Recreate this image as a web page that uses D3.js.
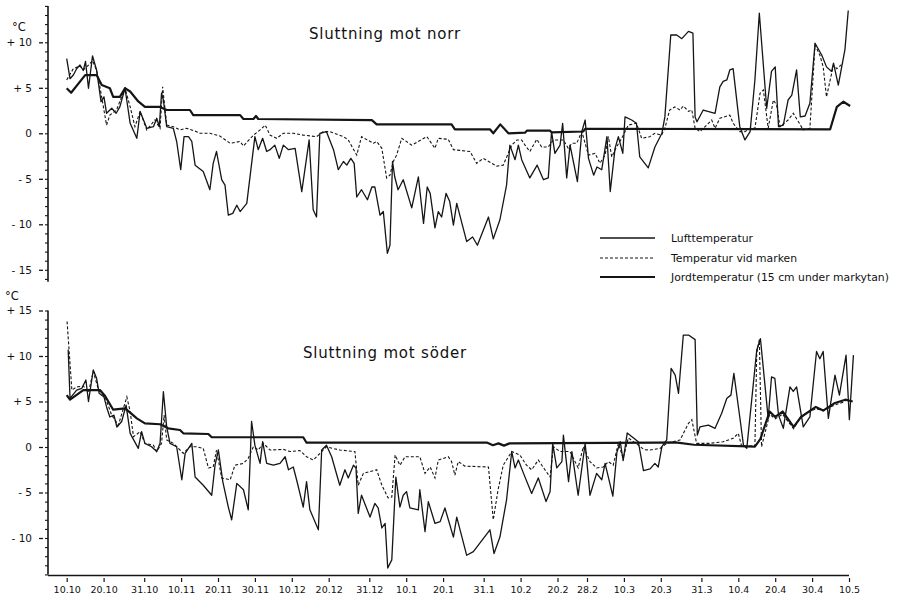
<!DOCTYPE html>
<html>
<head>
<meta charset="utf-8">
<script src="https://cdn.jsdelivr.net/npm/d3@7"></script>
<style>
  html, body { margin: 0; padding: 0; background: #fff; }
  svg { display: block; }
  text { font-family: "DejaVu Sans", "Liberation Sans", sans-serif; fill: #111; }
</style>
</head>
<body>
<svg id="chart" width="903" height="597"></svg>
<script>
// Day offsets counted from 10 October; tick labels along the date axis.
const tickDays   = [0, 10, 21, 31, 41, 51, 61, 71, 82, 92, 102, 113, 123, 133, 141, 151, 161, 172, 182, 192, 202, 212];
const tickLabels = ["10.10", "20.10", "31.10", "10.11", "20.11", "30.11", "10.12", "20.12", "31.12", "10.1", "20.1",
                    "31.1", "10.2", "20.2", "28.2", "10.3", "20.3", "31.3", "10.4", "20.4", "30.4", "10.5"];

const titles = ["Sluttning mot norr", "Sluttning mot söder"];
const legendLabels = ["Lufttemperatur", "Temperatur vid marken", "Jordtemperatur (15 cm under markytan)"];

const northTicks = [10, 5, 0, -5, -10, -15];
const southTicks = [15, 10, 5, 0, -5, -10];

// ---- North-facing slope: [day, °C] ----
const northAir = [[0,8.2],[0.9,6.0],[1.8,6.4],[2.7,7.1],[3.6,7.5],[4.5,6.9],[5.1,7.9],[5.9,4.95],[7.0,8.5],[8.1,6.96],
 [9.3,3.47],[10.1,4.0],[10.8,2.2],[12.2,2.75],[13.4,2.2],[14.4,2.9],[15.8,4.95],[17.2,1.1],[19.0,-0.55],[19.9,2.4],
 [21.7,0.55],[23.5,0.73],[24.4,1.65],[25.1,0.73],[25.7,4.4],[26.2,3.66],[27.1,0.73],[28.9,0.55],[29.8,-0.9],[30.9,-4.0],
 [31.8,-0.37],[33.0,-0.37],[33.9,-0.9],[34.8,-3.5],[37.0,-4.2],[38.8,-6.2],[39.7,-3.3],[40.6,-2.0],[42.0,-5.1],[42.9,-5.7],
 [43.8,-9.0],[45.0,-8.8],[46.1,-7.9],[47.0,-8.6],[48.8,-7.7],[51.0,-0.37],[51.9,-1.8],[53.1,-0.55],[54.2,-2.0],[55.1,-1.8],
 [56.4,-1.3],[57.6,-2.75],[58.7,-1.3],[60.1,-1.8],[61.9,-1.65],[63.7,-6.4],[65.7,-0.73],[66.8,-8.4],[67.7,-9.2],[68.6,0],
 [70.4,0.18],[72.3,-1.8],[73.6,-4.0],[75.0,-3.1],[75.9,-3.5],[77.0,-2.75],[77.9,-3.3],[78.6,-7.0],[79.9,-6.2],[81.5,-7.3],
 [82.7,-5.9],[83.5,-5.9],[84.9,-9.0],[85.8,-8.6],[86.9,-13.2],[87.6,-12.3],[88.3,-3.1],[88.9,-4.8],[89.8,-6.2],[91.2,-5.1],
 [93.5,-8.2],[95.3,-4.8],[96.7,-9.9],[97.7,-5.9],[98.5,-6.6],[99.8,-10.4],[100.7,-8.6],[101.6,-9.2],[102.8,-6.6],[103.8,-7.5],
 [104.8,-10.1],[105.7,-7.7],[108.4,-11.9],[110.0,-11.4],[111.3,-12.3],[114.3,-9.2],[115.6,-11.6],[117.4,-9.5],[119.2,-5.7],
 [120.1,-1.3],[121.5,-2.9],[122.4,-1.3],[123.3,-2.9],[125.5,-4.9],[127.5,-3.5],[129.2,-5.1],[130.5,-4.9],[131.4,0.18],
 [132.3,-2.2],[133.7,-1.3],[134.4,1.1],[135.5,-4.9],[136.4,-1.3],[138.4,-5.3],[139.6,0.18],[140.5,1.46],[141.4,-2.75],
 [142.8,-4.6],[143.7,-3.7],[145.0,-4.0],[146.4,-0.37],[147.3,-6.4],[148.6,-1.65],[149.5,-0.37],[150.7,-2.2],[151.3,1.8],
 [153.1,1.46],[154.4,1.1],[155.3,-2.6],[157.6,-3.8],[159.4,-1.5],[161.3,0],[162.1,1.8],[163.7,10.8],[165.3,10.8],
 [166.7,10.4],[168.5,11.2],[169.7,11.0],[170.3,1.8],[170.8,1.27],[172.5,2.56],[175.7,2.2],[177.0,5.1],[177.9,5.7],
 [178.9,5.86],[179.7,6.96],[180.6,7.1],[182.4,0.73],[183.8,-0.73],[185.2,0.18],[186.5,5.86],[187.7,13.2],[189.7,2.75],
 [191.0,6.8],[192.0,7.3],[192.9,0.73],[194.2,0.9],[195.5,3.66],[196.5,4.2],[197.8,6.96],[198.8,1.8],[200.1,1.9],
 [201.4,3.3],[202.8,9.9],[204.6,8.6],[205.9,7.3],[207.3,6.8],[207.8,7.7],[209.1,5.3],[210.9,9.2],[211.8,13.5]];

const northGround = [[0,5.86],[1.8,7.1],[3.6,7.4],[4.5,6.96],[5.9,7.5],[7.0,8.0],[8.1,6.9],[9.0,5.1],[10.8,0.9],[11.7,2.0],
 [13.5,2.56],[15.8,4.95],[17.2,2.9],[18.5,0.73],[19.9,2.4],[21.7,0.37],[23.9,1.46],[25.3,0.55],[26.0,5.1],[27.1,0.9],
 [28.9,0.73],[30.7,0.37],[32.5,0.55],[35.2,0.18],[36.1,0],[38.8,0],[41.5,-0.3],[44.3,-1.1],[47.0,-0.9],[47.9,-1.4],
 [50.6,-0.2],[52.4,0.37],[53.8,0.9],[55.1,-0.2],[56.9,-0.55],[58.7,0],[61.4,0],[64.1,-0.2],[67.7,-0.37],[69.5,0.18],
 [71.4,0.18],[75.0,-0.37],[76.3,-0.73],[78.6,-2.4],[79.9,-0.37],[83.1,-1.1],[84.0,-0.9],[85.4,-1.65],[86.7,-4.9],
 [87.6,-4.6],[88.5,-3.1],[89.4,-2.4],[90.8,-0.55],[93.5,-1.3],[97.6,-0.37],[99.8,-1.65],[100.7,-0.55],[103.4,-0.66],
 [104.8,-1.8],[109.3,-2.0],[111.1,-3.3],[112.9,-2.75],[116.5,-3.6],[118.3,-3.5],[120.6,-1.3],[122.0,-0.73],[123.3,-0.73],
 [124.2,-1.3],[125.5,-2.0],[127.4,-0.66],[128.7,-1.5],[130.5,-1.5],[131.9,-0.73],[134.6,-0.73],[135.9,-1.65],[136.9,-1.1],
 [138.2,-1.1],[139.6,0.18],[141.4,-2.4],[143.2,-2.2],[144.5,-3.3],[145.9,-2.4],[146.8,-0.37],[147.7,-2.6],[149.0,-1.5],
 [150.4,-0.55],[152.2,0.9],[154.4,1.1],[155.8,-0.55],[158.0,-0.37],[159.4,0],[161.2,-0.2],[162.1,0.55],[163.4,2.56],
 [164.8,2.9],[166.2,2.56],[167.1,3.0],[168.5,2.4],[169.4,2.56],[170.3,0.55],[171.6,0.18],[173.4,0.9],[174.8,1.46],
 [175.7,0.55],[177.0,1.65],[179.7,2.0],[180.6,1.1],[182.4,0.18],[183.8,0.18],[185.2,0.55],[186.5,0.55],[187.9,4.4],
 [188.8,4.76],[190.1,0.55],[191.5,3.66],[192.4,3.1],[193.3,0.73],[195.5,1.46],[196.9,2.2],[198.3,1.27],[199.6,0.37],
 [201.4,0.55],[202.8,9.7],[204.1,8.6],[205.0,7.3],[205.9,4.0],[206.9,5.86],[207.8,7.5],[208.7,7.1],[210.4,7.7]];

const northSoil = [[0,4.95],[1.2,4.46],[5.0,6.4],[8.1,6.4],[9.5,5.3],[11.7,4.95],[12.6,4.0],[14.4,4.0],[15.8,4.95],
 [17.2,4.6],[19.4,3.5],[21.2,2.9],[25.3,2.9],[27.1,2.56],[33.4,2.56],[34.3,2.0],[47.0,2.0],[47.9,1.57],[50.6,1.57],
 [51.3,1.9],[51.9,1.57],[82.7,1.45],[84.0,0.98],[104.3,0.98],[105.2,0.44],[114.7,0.44],[115.6,0.0],[117.5,0.98],
 [119.7,0.0],[124.2,0.07],[124.7,0.29],[131.0,0.29],[131.4,0.1],[140.0,0.2],[140.5,0.5],[206.9,0.44],[208.7,2.9],
 [210.5,3.47],[212.3,3.0]];

// ---- South-facing slope: [day, °C] ----
const southAir = [[0.4,10.7],[0.9,5.35],[2.7,6.26],[4.1,6.45],[5.2,7.36],[5.9,5.0],[7.2,8.46],[8.1,7.55],[8.8,5.9],
 [10.1,5.5],[10.8,4.4],[11.7,3.3],[12.8,3.5],[13.6,2.2],[14.9,2.8],[16.1,4.6],[17.2,1.5],[19.4,-0.15],[20.3,1.68],
 [21.2,0.4],[23.0,0.03],[24.4,-0.5],[25.3,0.4],[26.2,6.08],[27.1,2.2],[28.0,0.4],[29.8,0.03],[31.2,-3.6],[32.1,-0.7],
 [33.9,0.4],[34.8,-3.3],[37.0,-4.2],[39.3,-5.3],[40.2,-2.0],[41.1,-0.33],[42.3,-3.8],[43.8,-6.6],[44.7,-8.0],[46.1,-4.0],
 [47.9,-4.7],[49.2,-6.9],[50.1,2.8],[51.0,0.2],[52.4,-1.8],[53.1,0.58],[54.2,-1.8],[56.0,-2.0],[57.8,-1.8],[59.2,-1.07],
 [60.1,-2.5],[61.4,-2.2],[62.3,-3.6],[64.1,-6.6],[65.0,-3.8],[65.9,-6.9],[68.2,-9.1],[69.1,-0.33],[70.4,0.2],[71.8,-1.07],
 [74.0,-4.2],[75.4,-2.5],[76.3,-3.4],[77.7,-2.0],[78.4,-2.3],[79.0,-7.3],[79.9,-5.3],[82.2,-7.7],[83.5,-6.2],[84.4,-6.7],
 [85.4,-8.9],[86.3,-8.4],[87.0,-13.3],[88.1,-12.4],[89.2,-3.3],[90.3,-6.6],[91.2,-5.3],[92.1,-4.9],[93.0,-6.7],[95.3,-6.9],
 [95.7,-4.7],[97.1,-9.3],[98.0,-6.0],[99.8,-8.4],[101.2,-8.2],[102.5,-6.7],[104.8,-9.9],[105.7,-7.7],[108.4,-11.9],
 [110.2,-11.5],[114.7,-9.1],[115.8,-11.7],[117.4,-9.9],[119.2,-5.8],[120.6,-0.5],[121.5,-2.3],[122.4,-1.43],[123.8,-2.9],
 [126.0,-5.1],[127.8,-3.4],[129.9,-6.0],[131.0,-4.9],[131.7,0.4],[132.8,-2.3],[134.2,-1.6],[134.6,1.3],[136.0,-3.8],
 [136.9,-0.5],[138.6,-5.3],[140.5,0.4],[141.8,-5.3],[143.6,-2.9],[145.0,-3.6],[145.9,-1.8],[148.0,-5.4],[149.1,-0.6],
 [150.0,0.58],[150.8,-1.5],[151.9,1.55],[154.9,0.58],[156.3,-2.6],[158.1,-2.4],[159.4,-1.8],[160.3,-2.2],[161.3,0.03],
 [162.6,0.77],[163.8,8.65],[164.9,7.9],[165.8,5.9],[167.1,12.3],[168.5,12.3],[170.3,11.8],[170.9,1.3],[171.6,2.2],
 [173.9,2.4],[175.7,2.05],[177.5,3.7],[178.9,5.35],[180.0,5.7],[180.8,8.1],[182.4,3.3],[183.4,0.2],[184.3,-0.15],
 [187.0,10.66],[188.0,11.9],[190.1,3.15],[191.0,7.7],[191.9,7.55],[192.9,3.5],[194.2,2.05],[196.0,6.6],[196.9,6.1],
 [197.8,6.6],[199.6,2.2],[201.4,3.3],[203.2,10.5],[204.1,9.7],[205.0,10.5],[206.4,3.15],[208.2,7.9],[209.4,5.7],
 [211.2,10.1],[212.1,3.0],[213.2,10.1]];

const southGround = [[0.1,13.8],[1.4,6.26],[2.7,6.6],[4.5,6.7],[5.9,6.0],[7.2,8.3],[8.6,6.3],[10.4,5.5],[12.2,3.5],
 [14.0,2.4],[16.3,5.5],[17.2,3.9],[18.1,1.13],[19.9,1.68],[21.2,0.4],[23.5,0.2],[24.4,-0.5],[25.7,0.4],[26.4,3.5],
 [27.1,0.77],[28.9,0.4],[30.7,-0.33],[31.6,-0.7],[33.4,0.03],[35.2,0.03],[37.0,-0.15],[38.4,-2.3],[39.7,-2.2],
 [40.6,-0.33],[42.0,-3.4],[44.3,-3.6],[45.6,-2.0],[47.9,-1.8],[49.2,-1.24],[50.6,0.03],[51.9,-0.33],[53.3,0.4],
 [55.1,-0.33],[58.7,-0.26],[60.5,-0.5],[63.2,-0.4],[65.0,-1.07],[66.8,-1.43],[68.2,-0.88],[70.4,0.03],[72.5,-0.2],
 [74.0,-0.33],[78.1,-0.5],[79.0,-4.2],[80.4,-2.9],[84.0,-2.5],[85.4,-4.2],[87.1,-5.6],[88.1,-5.5],[89.0,-0.88],
 [90.3,-2.0],[91.7,-1.07],[95.7,-1.07],[97.1,-2.9],[98.5,-2.2],[99.8,-3.4],[100.7,-1.43],[103.4,-1.07],[104.3,-1.6],
 [105.2,-3.1],[106.1,-1.6],[107.9,-2.1],[114.3,-2.2],[115.6,-8.0],[116.9,-4.7],[118.3,-2.0],[120.6,-0.5],[122.8,-0.88],
 [124.6,-2.0],[126.0,-2.5],[127.8,-1.43],[129.6,-2.5],[131.0,-3.3],[131.9,0.03],[133.7,-0.5],[136.4,-0.5],[138.6,-2.3],
 [140.0,0.03],[141.8,-1.6],[143.6,-2.3],[145.4,-2.2],[146.8,-1.6],[148.1,-2.0],[149.5,0.4],[150.8,-1.24],[152.2,1.0],
 [154.9,0.2],[156.5,-0.3],[158.1,-0.33],[160.8,-0.15],[162.6,0.4],[166.2,0.77],[168.5,2.6],[169.4,3.0],[170.7,0.4],
 [174.3,0.4],[177.9,0.58],[180.6,0.95],[182.0,1.5],[182.9,0.1],[186.5,0.1],[187.0,10.3],[187.7,11.8],[188.3,0.03],
 [190.5,3.6],[192.0,3.1],[194.0,3.6],[197.0,2.0],[199.0,3.4],[203.0,4.2],[205.0,4.0],[208.0,4.6],[211.0,5.0]];

const southSoil = [[0,5.7],[0.9,5.2],[4.5,6.26],[9.0,6.26],[10.4,5.6],[12.6,4.1],[15.8,4.25],[17.2,3.77],[19.0,3.15],
 [21.2,2.6],[25.3,2.5],[27.5,2.05],[30.7,1.87],[31.6,1.5],[38.4,1.43],[39.3,1.07],[64.1,1.07],[65.0,0.47],[114.0,0.47],
 [115.5,0.2],[117.0,0.4],[118.5,0.15],[120.0,0.4],[160.0,0.47],[165.0,0.5],[170.0,0.25],[186.5,0.05],[188.0,0.9],
 [190.5,3.9],[192.0,3.3],[194.0,3.9],[197.0,2.2],[199.0,3.3],[203.0,4.4],[205.0,4.0],[208.0,4.8],[211.0,5.2],[213.0,5.0]];

// ---- Drawing ----
const ink = "#151515";
const svg = d3.select("#chart");
svg.append("rect").attr("width", 903).attr("height", 597).attr("fill", "#fff");

const x = d3.scaleLinear().domain([0, 212]).range([66.7, 849]);

const panels = [
  { title: titles[0], y: d3.scaleLinear().domain([0, 10]).range([133.3, 42.3]), lo: -16.3, hi: 14,
    majors: northTicks, unitY: 31, titleY: 39,
    air: northAir, ground: northGround, soil: northSoil },
  { title: titles[1], y: d3.scaleLinear().domain([0, 10]).range([447, 356]), lo: -14, hi: 15,
    majors: southTicks, unitY: 300, titleY: 358,
    air: southAir, ground: southGround, soil: southSoil }
];

const fmt = v => v > 0 ? "+ " + v : v < 0 ? "- " + Math.abs(v) : "0";

panels.forEach((p, i) => {
  const g = svg.append("g");
  const y = p.y;

  // vertical axis line
  g.append("line")
    .attr("x1", 48).attr("x2", 48)
    .attr("y1", y(p.hi)).attr("y2", y(p.lo))
    .attr("stroke", ink).attr("stroke-width", 1.6);

  // minor ticks every degree
  const minor = d3.axisLeft(y)
    .tickValues(d3.range(Math.ceil(p.lo), Math.floor(p.hi) + 1))
    .tickSize(3).tickFormat("");
  g.append("g").attr("transform", "translate(48,0)").call(minor)
    .call(a => a.select(".domain").remove())
    .selectAll("line").attr("stroke", ink).attr("stroke-width", 1.1);

  // labelled major ticks
  const major = d3.axisLeft(y).tickValues(p.majors).tickSize(4).tickPadding(7).tickFormat(fmt);
  g.append("g").attr("transform", "translate(43,0)").call(major)
    .call(a => a.select(".domain").remove())
    .call(a => a.selectAll("line").attr("stroke", ink).attr("stroke-width", 1.3))
    .call(a => a.selectAll("text").attr("font-size", 10.5).attr("fill", ink)
      .style("font-family", "'DejaVu Sans', sans-serif"));

  g.append("text").attr("x", i === 0 ? 12 : 5).attr("y", p.unitY)
    .attr("font-size", 11.5).text("°C");

  // title
  g.append("text").attr("x", 385).attr("y", p.titleY)
    .attr("text-anchor", "middle").attr("font-size", 15)
    .attr("letter-spacing", 0.8)
    .text(p.title);

  const line = d3.line().x(d => x(d[0])).y(d => y(d[1]));

  g.append("path").datum(p.soil).attr("d", line)
    .attr("fill", "none").attr("stroke", ink).attr("stroke-width", 2.2)
    .attr("stroke-linejoin", "round");
  g.append("path").datum(p.ground).attr("d", line)
    .attr("fill", "none").attr("stroke", ink).attr("stroke-width", 1.1)
    .attr("stroke-dasharray", "3,2");
  g.append("path").datum(p.air).attr("d", line)
    .attr("fill", "none").attr("stroke", ink).attr("stroke-width", 1.3)
    .attr("stroke-linejoin", "round");
});

// date axis under the lower panel
svg.append("line").attr("x1", 48).attr("x2", 849).attr("y1", 575.5).attr("y2", 575.5)
  .attr("stroke", ink).attr("stroke-width", 1.6);
const xAxis = d3.axisBottom(x).tickValues(tickDays).tickSize(4).tickPadding(4)
  .tickFormat((d, i) => tickLabels[i]);
svg.append("g").attr("transform", "translate(0,578)").call(xAxis)
  .call(a => a.select(".domain").remove())
  .call(a => a.selectAll("line").attr("stroke", ink).attr("stroke-width", 1.2))
  .call(a => a.selectAll("text").attr("font-size", 9.5).attr("fill", ink)
    .style("font-family", "'DejaVu Sans', sans-serif"));

// legend (upper panel)
const legendY = [238, 258, 277];
const legendStyle = [
  { w: 1.3, dash: null },
  { w: 1.1, dash: "3,2" },
  { w: 2.2, dash: null }
];
const lg = svg.append("g");
legendLabels.forEach((t, i) => {
  lg.append("line").attr("x1", 600).attr("x2", 655)
    .attr("y1", legendY[i]).attr("y2", legendY[i])
    .attr("stroke", ink).attr("stroke-width", legendStyle[i].w)
    .attr("stroke-dasharray", legendStyle[i].dash);
  lg.append("text").attr("x", 671).attr("y", legendY[i] + 3.5)
    .attr("font-size", 10.8).text(t);
});
</script>
</body>
</html>
